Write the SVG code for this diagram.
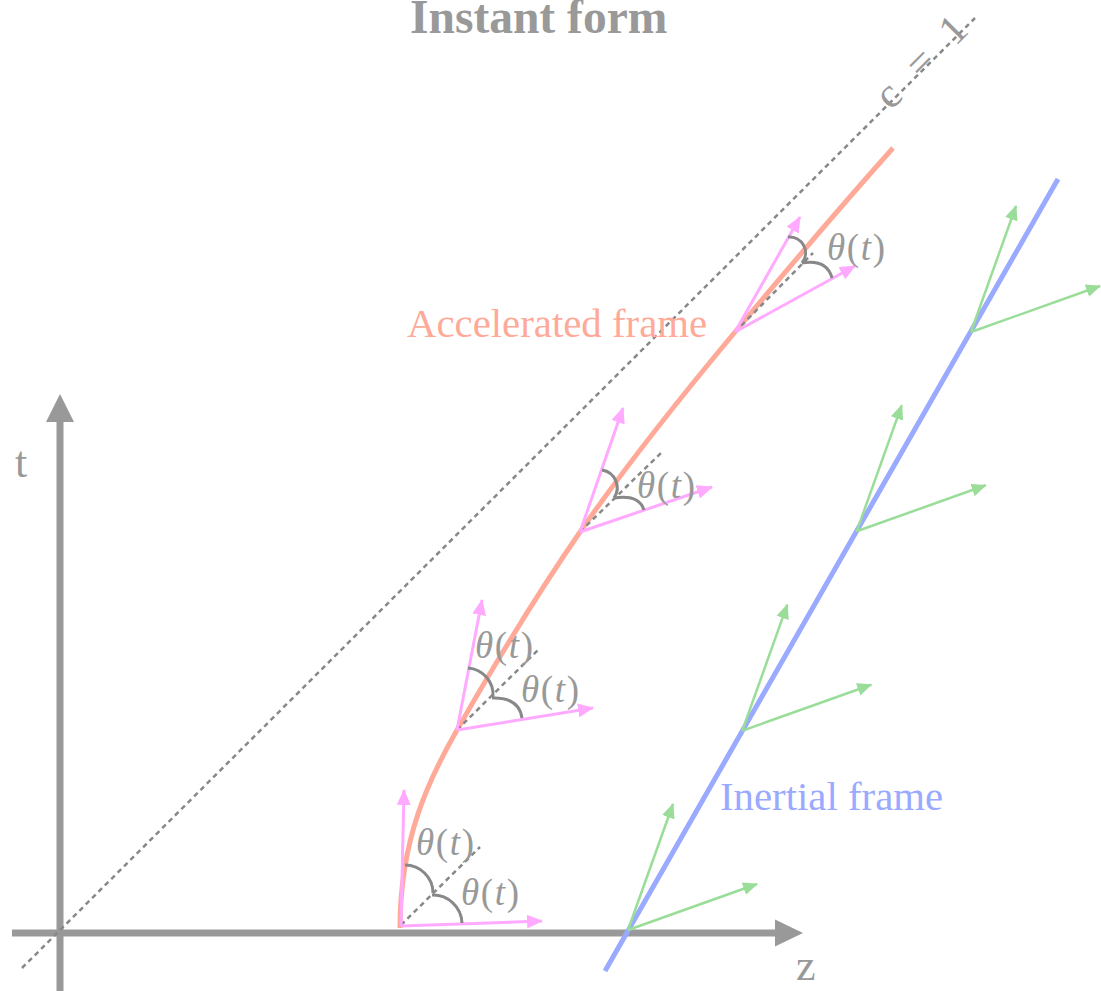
<svg xmlns="http://www.w3.org/2000/svg" width="1101" height="991" viewBox="0 0 1101 991">
<style>
text{font-family:"Liberation Serif","Times New Roman",serif}
.lbl{fill:#999999}
.th{fill:#999999;font-size:37px}
.it{font-style:italic}
.dash{stroke:#888888;stroke-width:2.5;stroke-dasharray:5 4;fill:none}
.arc{stroke:#888888;stroke-width:3;fill:none}
.pk{stroke:#ffaaff;stroke-width:3;fill:none;marker-end:url(#mpk)}
.gr{stroke:#99dd99;stroke-width:2.5;fill:none;marker-end:url(#mgr)}
</style>
<defs>
<marker id="mpk" markerUnits="userSpaceOnUse" markerWidth="16" markerHeight="14" refX="15" refY="7" orient="auto"><path d="M0,0 L16,7 L0,14 z" fill="#ffaaff"/></marker>
<marker id="mgr" markerUnits="userSpaceOnUse" markerWidth="15" markerHeight="13" refX="14" refY="6.5" orient="auto"><path d="M0,0 L15,6.5 L0,13 z" fill="#99dd99"/></marker>
</defs>
<rect width="1101" height="991" fill="#ffffff"/>
<g id="title"><text x="410" y="33" font-size="47.5" font-weight="bold" class="lbl">Instant form</text></g>
<g id="axes">
<line x1="12" y1="933" x2="778" y2="933" stroke="#999999" stroke-width="7"/>
<polygon points="803,933 775,919.5 775,946.5" fill="#999999"/>
<line x1="60" y1="991" x2="60" y2="418" stroke="#999999" stroke-width="7"/>
<polygon points="60,394 46,422 74,422" fill="#999999"/>
<text x="15" y="477" font-size="44" class="lbl">t</text>
<text x="796" y="980" font-size="44" class="lbl">z</text>
</g>
<g id="light-cone">
<line x1="22" y1="968" x2="975" y2="18" class="dash"/>
<text transform="translate(891,111) rotate(-45)" font-size="42" class="lbl" textLength="112" lengthAdjust="spacing">c = 1</text>
</g>
<g id="inertial-frame">
<line x1="605" y1="971" x2="1058" y2="179" stroke="#99aaff" stroke-width="5"/>
<text x="720" y="810" font-size="40.8" fill="#99aaff">Inertial frame</text>
<g id="inertial-axes">
<line x1="628" y1="930" x2="673" y2="804" class="gr"/><line x1="628" y1="930" x2="757" y2="884" class="gr"/>
<line x1="742.3" y1="730.7" x2="787.3" y2="604.7" class="gr"/><line x1="742.3" y1="730.7" x2="871.3" y2="684.7" class="gr"/>
<line x1="856.7" y1="531.3" x2="901.7" y2="405.3" class="gr"/><line x1="856.7" y1="531.3" x2="985.7" y2="485.3" class="gr"/>
<line x1="971" y1="332" x2="1016" y2="206" class="gr"/><line x1="971" y1="332" x2="1100" y2="286" class="gr"/>
</g>
</g>
<g id="accelerated-frame">
<path d="M400,928 C400,838 429.7,777.7 457,730 C495.7,662.3 535.7,596.2 580,532 C627.7,462.9 681.2,396.5 735,332 C786.2,270.6 839.7,207.7 893,148" fill="none" stroke="#ffaa99" stroke-width="5"/>
<text x="407" y="337" font-size="40.8" fill="#ffaa99">Accelerated frame</text>
</g>
<g id="frame-1">
<line x1="401" y1="925" x2="480" y2="847" class="dash"/>
<line x1="401" y1="926" x2="404" y2="790" class="pk"/>
<line x1="401" y1="926" x2="542" y2="921" class="pk"/>
<path d="M405,865 A28,28 0 0 1 433,893" class="arc"/>
<path d="M432,895 A29,29 0 0 1 462,923" class="arc"/>
<text x="416" y="855" class="th" textLength="58" lengthAdjust="spacing"><tspan class="it">θ</tspan>(<tspan class="it">t</tspan>)</text>
<text x="461" y="905" class="th" textLength="58" lengthAdjust="spacing"><tspan class="it">θ</tspan>(<tspan class="it">t</tspan>)</text>
</g>
<g id="frame-2">
<line x1="457" y1="730" x2="538" y2="650" class="dash"/>
<line x1="457" y1="730" x2="482" y2="600" class="pk"/>
<line x1="457" y1="730" x2="593" y2="708" class="pk"/>
<path d="M468,668 A27,27 0 0 1 493,697" class="arc"/>
<path d="M492,698 Q519,697 522,718" class="arc"/>
<text x="475" y="658" class="th" textLength="58" lengthAdjust="spacing"><tspan class="it">θ</tspan>(<tspan class="it">t</tspan>)</text>
<text x="521" y="702" class="th" textLength="58" lengthAdjust="spacing"><tspan class="it">θ</tspan>(<tspan class="it">t</tspan>)</text>
</g>
<g id="frame-3">
<line x1="580" y1="532" x2="662" y2="452" class="dash"/>
<line x1="580" y1="532" x2="623" y2="408" class="pk"/>
<line x1="580" y1="532" x2="712" y2="487" class="pk"/>
<path d="M602,470 A18,18 0 0 1 614,498" class="arc"/>
<path d="M614,498 Q639,494 644,510" class="arc"/>
<text x="637" y="498" class="th" textLength="58" lengthAdjust="spacing"><tspan class="it">θ</tspan>(<tspan class="it">t</tspan>)</text>
</g>
<g id="frame-4">
<line x1="735" y1="332" x2="813" y2="253" class="dash"/>
<line x1="735" y1="332" x2="800" y2="217" class="pk"/>
<line x1="735" y1="332" x2="855" y2="266" class="pk"/>
<path d="M788,237 A16,16 0 0 1 802,263" class="arc"/>
<path d="M802,263 Q827,259 832,278" class="arc"/>
<text x="827" y="260" class="th" textLength="58" lengthAdjust="spacing"><tspan class="it">θ</tspan>(<tspan class="it">t</tspan>)</text>
</g>
</svg>
